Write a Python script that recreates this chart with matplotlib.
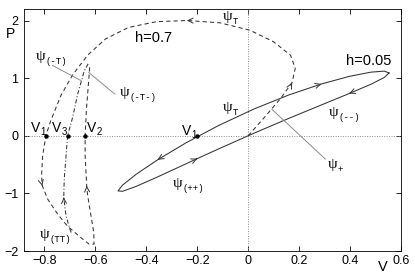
import matplotlib
matplotlib.use('Agg')
import numpy as np
import matplotlib.pyplot as plt
from matplotlib.transforms import offset_copy

plt.rcParams['font.family'] = ['Liberation Sans', 'DejaVu Sans']

# h=0.05 orbit (closed loop)
loop_v = [0.553, 0.535, 0.482, 0.397, 0.287, 0.159, 0.021, -0.117, -0.245, -0.355,
          -0.440, -0.493, -0.511, -0.493, -0.440, -0.355, -0.245, -0.200, -0.117, 0.021,
          0.159, 0.287, 0.397, 0.482, 0.535, 0.553]
loop_p = [1.090, 1.122, 1.104, 1.031, 0.898, 0.707, 0.461, 0.176, -0.125, -0.416,
          -0.669, -0.856, -0.957, -0.964, -0.879, -0.713, -0.489, -0.397, -0.230, 0.041,
          0.301, 0.534, 0.734, 0.894, 1.013, 1.090]

# h=0.7 dashed trajectory: origin -> top -> V1 -> bottom -> V2
dash_v = [0.000, 0.060, 0.126, 0.172, 0.185, 0.166, 0.100, 0.008, -0.110, -0.240,
          -0.360, -0.470, -0.560, -0.630, -0.690, -0.735, -0.776, -0.794, -0.807, -0.811,
          -0.808, -0.787, -0.748, -0.709, -0.656, -0.625, -0.605, -0.606, -0.617, -0.630,
          -0.634, -0.637, -0.640, -0.640, -0.635, -0.628, -0.622]
dash_p = [0.000, 0.300, 0.640, 0.920, 1.170, 1.400, 1.630, 1.830, 1.960, 2.000,
          1.980, 1.880, 1.680, 1.400, 1.050, 0.700, 0.250, 0.000, -0.350, -0.700,
          -0.870, -1.100, -1.360, -1.570, -1.770, -1.880, -1.880, -1.680, -1.390, -1.040,
          -0.870, -0.600, -0.350, 0.000, 0.450, 0.850, 1.190]

# h=0.7 dash-dot trajectory through V3
dd_v = [-0.695, -0.702, -0.715, -0.724, -0.722, -0.715, -0.709, -0.689, -0.669, -0.643, -0.628]
dd_p = [-1.680, -1.590, -1.390, -1.070, -0.750, -0.350, 0.000, 0.320, 0.730, 1.130, 1.250]

# arrows: (point index, reversed)
loop_arrows = [(4, True), (9, False), (17, False), (22, True)]
dash_arrows = [(3, False), (9, False), (20, False), (30, False)]
dd_arrows = [(3, False)]

# fixed points on P=0
pt_v = [-0.794, -0.709, -0.640, -0.200]
pt_p = [0.0, 0.0, 0.0, 0.0]

# labels
psi_names = ['(-T)', '(-T-)', 'T', 'T', '(++)', '(--)', '+', '(TT)']
psi_v = [-0.832, -0.505, -0.099, -0.099, -0.296, 0.315, 0.312, -0.820]
psi_p = [1.37, 0.75, 2.07, 0.49, -0.83, 0.40, -0.50, -1.72]
vlab_names = ['1', '3', '2', '1']
vlab_v = [-0.852, -0.769, -0.631, -0.260]
vlab_p = [0.14, 0.14, 0.14, 0.09]

# leader lines (grey)
lead_v = [(-0.768, -0.656), (-0.626, -0.524), (0.093, 0.303)]
lead_p = [(1.22, 0.957), (1.10, 0.725), (0.46, -0.405)]

xticks = [-0.8, -0.6, -0.4, -0.2, 0, 0.2, 0.4, 0.6]
xtick_labels = ['\u22120.8', '\u22120.6', '\u22120.4', '\u22120.2', '0', '0.2', '0.4', '0.6']
yticks = [-2, -1, 0, 1, 2]
ytick_labels = ['\u22122', '\u22121', '0', '1', '2']

fig = plt.figure(figsize=(4.15, 2.77), dpi=100)
ax = fig.add_axes([24 / 415, 1 - 251 / 277, 377 / 415, 242 / 277])

ax.axhline(0, color='0.55', ls=(0, (1, 1.5)), lw=0.7)
ax.axvline(0, color='0.55', ls=(0, (1, 1.5)), lw=0.7)

line_col = '0.2'
ax.plot(loop_v, loop_p, color=line_col, lw=0.75)
ax.plot(dash_v, dash_p, color=line_col, lw=0.75, ls=(0, (4, 3)))
ax.plot(dd_v, dd_p, color=line_col, lw=0.75, ls=(0, (4, 2, 1, 2)))
ax.plot(pt_v, pt_p, 'o', color='k', ms=2.2)


def add_arrows(vs, ps, arrows):
    for i, rev in arrows:
        dv = vs[i + 1] - vs[i - 1]
        dp = ps[i + 1] - ps[i - 1]
        if rev:
            dv, dp = -dv, -dp
        ax.annotate('', xy=(vs[i], ps[i]), xytext=(vs[i] - 0.02 * dv, ps[i] - 0.02 * dp),
                    arrowprops=dict(arrowstyle='->', color=line_col, lw=0.7,
                                    shrinkA=0, shrinkB=0, mutation_scale=9))


add_arrows(loop_v, loop_p, loop_arrows)
add_arrows(dash_v, dash_p, dash_arrows)
add_arrows(dd_v, dd_p, dd_arrows)

for lv, lp in zip(lead_v, lead_p):
    ax.plot(lv, lp, color='0.55', lw=0.7)

sub_tr = offset_copy(ax.transData, fig=fig, x=7, y=-3.5, units='points')
for name, v, p in zip(psi_names, psi_v, psi_p):
    ax.text(v, p, '\u03c8', family='Liberation Serif', fontsize=11, ha='left', va='center')
    ax.text(v, p, name, transform=sub_tr, family='Liberation Mono', fontsize=6.5,
            ha='left', va='center')

vsub_tr = offset_copy(ax.transData, fig=fig, x=6.8, y=-3, units='points')
for name, v, p in zip(vlab_names, vlab_v, vlab_p):
    ax.text(v, p, 'V', fontsize=10, ha='left', va='center')
    ax.text(v, p, name, transform=vsub_tr, fontsize=7, ha='left', va='center')

ax.text(-0.446, 1.69, 'h=0.7', fontsize=10.5, ha='left', va='center')
ax.text(0.383, 1.30, 'h=0.05', fontsize=10.5, ha='left', va='center')
ax.text(0.952, -0.066, 'V', fontsize=10.5, ha='center', va='center', transform=ax.transAxes)
ax.text(-0.0345, 0.898, 'P', fontsize=10, ha='center', va='center', transform=ax.transAxes)

ax.set_xlim(-0.88, 0.6)
ax.set_ylim(-2, 2.2)
ax.set_xticks(xticks)
ax.set_xticklabels(xtick_labels)
ax.set_yticks(yticks)
ax.set_yticklabels(ytick_labels)
ax.tick_params(direction='in', top=True, right=True, length=3.5, width=0.6, labelsize=9)
ax.tick_params(axis='x', pad=3)
ax.tick_params(axis='y', pad=4)
for s in ax.spines.values():
    s.set_linewidth(0.6)

fig.savefig('out.png', dpi=100)
